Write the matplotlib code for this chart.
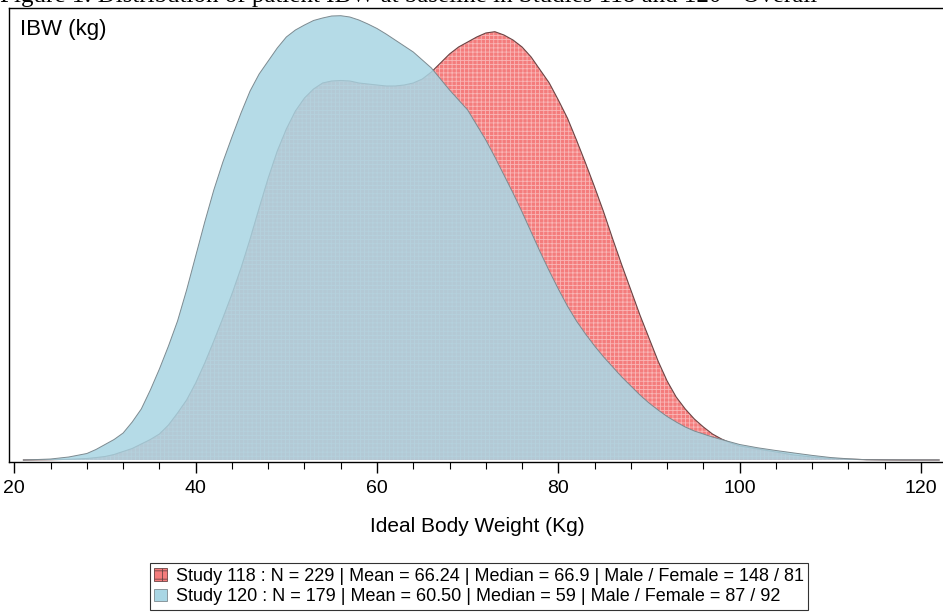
import matplotlib
matplotlib.use('Agg')
import matplotlib.pyplot as plt
from matplotlib.patches import Patch
from matplotlib.ticker import MultipleLocator

plt.rcParams['font.family'] = ['Liberation Sans', 'DejaVu Sans']
plt.rcParams['hatch.color'] = (1, 1, 1, 0.45)
plt.rcParams['hatch.linewidth'] = 0.6

# ideal body weight grid (kg) and kernel density heights
# (arbitrary units, the graph has no y scale)
ibw = [21, 22, 24, 26, 28, 29, 30, 31, 32, 33, 34, 35, 36, 37, 38, 39, 40,
       41, 42, 43, 44, 45, 46, 47, 48, 49, 50, 51, 52, 53, 54, 55, 56, 57, 58, 59, 60,
       61, 62, 63, 64, 65, 66, 67, 68, 69, 70, 71, 72, 73, 74, 75, 76, 77, 78, 79, 80,
       81, 82, 83, 84, 85, 86, 87, 88, 89, 90, 91, 92, 93, 94, 95, 96, 97, 98, 99, 100,
       102, 104, 106, 108, 110, 112, 114, 116, 118, 120, 122]

dens_118 = [0, 0.1, 0.3, 0.7, 1.5, 2.4, 3.5, 5.5, 8.5, 11.5, 16, 20.5, 26, 35, 47, 60, 77,
            97, 119, 142, 166, 192, 221, 252, 282, 309, 331, 349, 362, 371, 377, 379, 379.5, 379, 377, 376, 375,
            374, 374, 375, 377, 381, 388, 397, 406, 413, 418, 423, 427, 428.3, 425, 420, 413, 403, 390, 377, 360,
            342, 320, 297, 273, 248, 221, 195, 170, 145, 122, 99, 79, 63, 51, 41, 33, 26, 21, 17, 14,
            11, 8, 5, 3, 1.5, 0.8, 0.3, 0.1, 0, 0, 0]

dens_120 = [0, 0.3, 1, 3, 6.5, 10.5, 15.5, 20.5, 27, 38, 51, 70, 91, 114, 139, 170, 204,
            238, 270, 298, 323, 347, 369, 386, 399, 412, 423, 430, 435, 439.5, 442, 444, 444.3, 443, 440, 436, 431.5,
            426, 420, 414, 408, 400, 392, 381, 370, 360, 350, 335, 320, 303, 285, 267, 248, 228, 208, 189, 171,
            154, 139, 126, 114, 103, 93, 83, 74, 65, 57, 50, 43.5, 38, 33, 29, 26, 23, 20.5, 18, 15.5,
            12.2, 9.5, 7, 4.6, 2.5, 1.2, 0.3, 0.2, 0.15, 0.1, 0.1]

labels = ['Study 118 : N = 229 | Mean = 66.24 | Median = 66.9 | Male / Female = 148 / 81',
          'Study 120 : N = 179 | Mean = 60.50 | Median = 59 | Male / Female = 87 / 92']

red = '#f47c7c'
blue = '#a9d6e4'

fig = plt.figure(figsize=(9.43, 6.15), dpi=100)
ax = fig.add_axes([9/943, 1 - 462/615, 937/943, 454/615])

ax.fill(ibw, dens_118, facecolor=red, hatch='++++', zorder=2)
ax.plot(ibw, dens_118, color='#6b4545', lw=0.8, zorder=3)
ax.fill(ibw, dens_120, facecolor=blue, alpha=0.86, zorder=4)
ax.plot(ibw, dens_120, color='#7d8a90', lw=0.7, zorder=5)

ax.set_xlim(19.41, 122.76)
ax.set_ylim(-2, 452)
ax.set_yticks([])
ax.xaxis.set_major_locator(MultipleLocator(20))
ax.xaxis.set_minor_locator(MultipleLocator(4))
ax.tick_params(axis='x', which='major', length=8, width=1, labelsize=14, pad=5)
ax.tick_params(axis='x', which='minor', length=5, width=0.8)
for s in ax.spines.values():
    s.set_linewidth(1)

ax.text(0.012, 0.975, 'IBW (kg)', transform=ax.transAxes, ha='left', va='top', fontsize=16)
ax.set_xlabel('Ideal Body Weight (Kg)', fontsize=15, labelpad=14)

# report title above the graph, cut by the page edge as in the source
fig.text(0.0, 1 - 2/615, 'Figure 1: Distribution of patient IBW at baseline in Studies 118 and 120 - Overall',
         family='Liberation Serif', fontsize=18, ha='left', va='baseline')

handles = [Patch(facecolor=red, edgecolor='#6b4545', hatch='++', lw=0.6),
           Patch(facecolor=blue, edgecolor='#7d8a90', lw=0.6)]
leg = fig.legend(handles, labels, loc='lower center', bbox_to_anchor=(479/943, 5/615),
                 fontsize=13, frameon=True, fancybox=False, edgecolor='black',
                 handlelength=0.7, handleheight=0.7, handletextpad=0.5,
                 borderpad=0.25, labelspacing=0.2, borderaxespad=0)
leg.get_frame().set_linewidth(0.8)

fig.savefig('out.png', dpi=100)
